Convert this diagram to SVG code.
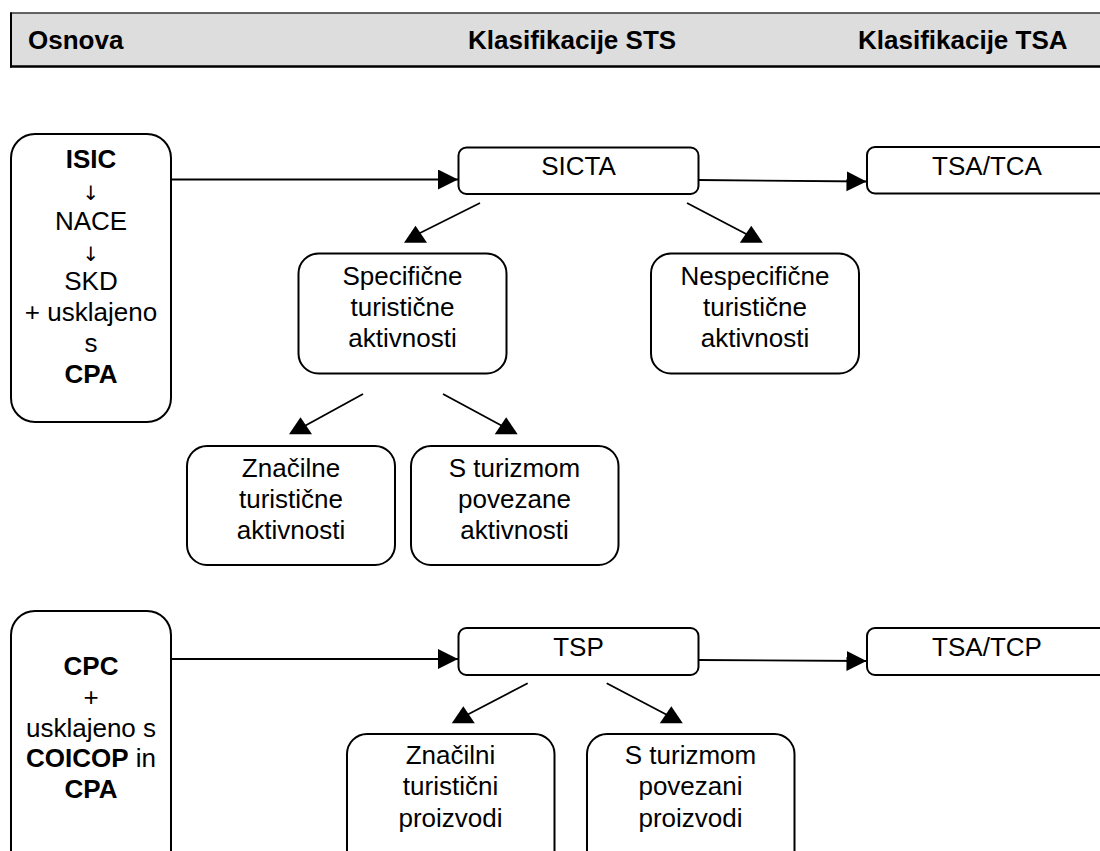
<svg xmlns="http://www.w3.org/2000/svg" width="1100" height="851" viewBox="0 0 1100 851">
  <style>
    text { font-family: "Liberation Sans", Arial, sans-serif; font-size: 26px; fill: #000; text-anchor: middle; }
    .hd { font-weight: bold; text-anchor: start; }
    .b { font-weight: bold; }
    .ar { font-family: "DejaVu Sans", sans-serif; font-size: 20px; }
    .box { fill: #fff; stroke: #000; stroke-width: 2; }
    .conn { stroke: #000; stroke-width: 1.8; fill: none; }
    .head { fill: #000; stroke: none; }
  </style>
  <defs>
    <marker id="arr" markerUnits="userSpaceOnUse" markerWidth="22" markerHeight="22" refX="20" refY="10" orient="auto">
      <path d="M0,0 L20,10 L0,20 Z" fill="#000"/>
    </marker>
    <!-- upright triangular head drawn at the end of each slanted connector -->
    <path id="tri" d="M-11.5,0 L11.5,0 L0,-17 Z"/>
  </defs>

  <!-- header band -->
  <g id="header">
    <rect x="11" y="13" width="1092" height="54" fill="#dddddd"/>
    <line x1="10" y1="13" x2="1100" y2="13" stroke="#333" stroke-width="1.5"/>
    <line x1="10" y1="66.5" x2="1100" y2="66.5" stroke="#000" stroke-width="2.5"/>
    <line x1="11" y1="12.5" x2="11" y2="67.5" stroke="#000" stroke-width="2"/>
    <text class="hd" x="28" y="49">Osnova</text>
    <text class="hd" x="468" y="49">Klasifikacije STS</text>
    <text class="hd" x="858" y="49">Klasifikacije TSA</text>
  </g>

  <!-- connectors -->
  <g id="connectors">
    <line class="conn" x1="171" y1="179.5" x2="458" y2="179.5" marker-end="url(#arr)"/>
    <line class="conn" x1="698" y1="180" x2="866.5" y2="181.5" marker-end="url(#arr)"/>
    <line class="conn" x1="480" y1="203" x2="414" y2="236"/>
    <use class="head" href="#tri" x="415.5" y="242.7"/>
    <line class="conn" x1="687" y1="203" x2="750" y2="236"/>
    <use class="head" href="#tri" x="751.3" y="242.7"/>
    <line class="conn" x1="363" y1="394" x2="301" y2="428"/>
    <use class="head" href="#tri" x="300.5" y="434.3"/>
    <line class="conn" x1="443" y1="394" x2="506" y2="428"/>
    <use class="head" href="#tri" x="506.2" y="434.3"/>

    <line class="conn" x1="171" y1="659" x2="458" y2="659" marker-end="url(#arr)"/>
    <line class="conn" x1="698" y1="660" x2="866.5" y2="661" marker-end="url(#arr)"/>
    <line class="conn" x1="527.7" y1="683.3" x2="463" y2="717"/>
    <use class="head" href="#tri" x="463.3" y="723.3"/>
    <line class="conn" x1="606.7" y1="683.3" x2="671" y2="717"/>
    <use class="head" href="#tri" x="671.3" y="723.3"/>
  </g>

  <!-- activities row -->
  <g id="isic">
    <rect class="box" x="11" y="134" width="160" height="288" rx="24"/>
    <text class="b" x="91" y="168">ISIC</text>
    <text class="ar" x="91" y="200">↓</text>
    <text x="91" y="229.5">NACE</text>
    <text class="ar" x="91" y="261">↓</text>
    <text x="91" y="290">SKD</text>
    <text x="91" y="320.5">+ usklajeno</text>
    <text x="91" y="351.5">s</text>
    <text class="b" x="91" y="382.5">CPA</text>
  </g>
  <g id="sicta">
    <rect class="box" x="458.5" y="147.5" width="240" height="46.5" rx="8"/>
    <text x="578.5" y="175">SICTA</text>
  </g>
  <g id="tsa-tca">
    <rect class="box" x="867" y="147" width="250" height="46.5" rx="8"/>
    <text x="987" y="175">TSA/TCA</text>
  </g>
  <g id="specificne">
    <rect class="box" x="298.5" y="253.5" width="208" height="120" rx="20"/>
    <text x="402.5" y="285">Specifične</text>
    <text x="402.5" y="316">turistične</text>
    <text x="402.5" y="347">aktivnosti</text>
  </g>
  <g id="nespecificne">
    <rect class="box" x="651" y="253.5" width="208" height="120" rx="20"/>
    <text x="755" y="285">Nespecifične</text>
    <text x="755" y="316">turistične</text>
    <text x="755" y="347">aktivnosti</text>
  </g>
  <g id="znacilne">
    <rect class="box" x="187" y="446" width="208" height="119" rx="20"/>
    <text x="291" y="477">Značilne</text>
    <text x="291" y="508">turistične</text>
    <text x="291" y="538.5">aktivnosti</text>
  </g>
  <g id="povezane">
    <rect class="box" x="411" y="446" width="207.5" height="119" rx="20"/>
    <text x="514.5" y="477">S turizmom</text>
    <text x="514.5" y="508">povezane</text>
    <text x="514.5" y="538.5">aktivnosti</text>
  </g>

  <!-- products row -->
  <g id="cpc">
    <rect class="box" x="11" y="611" width="160" height="270" rx="24"/>
    <text class="b" x="91" y="675">CPC</text>
    <text x="91" y="706">+</text>
    <text x="91" y="737">usklajeno s</text>
    <text x="91" y="767"><tspan class="b">COICOP</tspan> in</text>
    <text class="b" x="91" y="798">CPA</text>
  </g>
  <g id="tsp">
    <rect class="box" x="458.5" y="628" width="240" height="47" rx="8"/>
    <text x="578.5" y="656">TSP</text>
  </g>
  <g id="tsa-tcp">
    <rect class="box" x="867" y="628" width="250" height="47" rx="8"/>
    <text x="987" y="656">TSA/TCP</text>
  </g>
  <g id="znacilni">
    <rect class="box" x="347" y="734" width="207.5" height="150" rx="20"/>
    <text x="450.5" y="764">Značilni</text>
    <text x="450.5" y="795">turistični</text>
    <text x="450.5" y="826.5">proizvodi</text>
  </g>
  <g id="povezani">
    <rect class="box" x="587" y="734" width="207.5" height="150" rx="20"/>
    <text x="690.5" y="764">S turizmom</text>
    <text x="690.5" y="795">povezani</text>
    <text x="690.5" y="826.5">proizvodi</text>
  </g>
</svg>
